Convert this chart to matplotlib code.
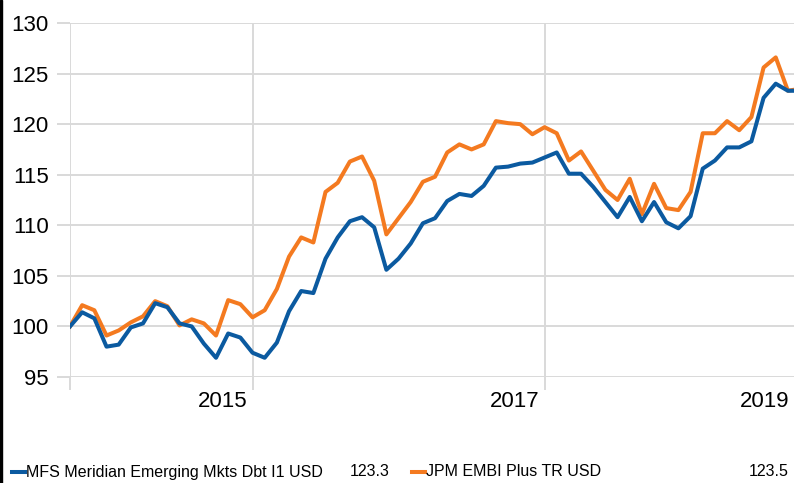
import numpy as np
import matplotlib
matplotlib.use("Agg")
import matplotlib.pyplot as plt
from matplotlib.lines import Line2D
from matplotlib.patches import Rectangle

plt.rcParams['font.family'] = ['Liberation Sans', 'DejaVu Sans']

# ---- data (monthly index values) ----
fund_name = "MFS Meridian Emerging Mkts Dbt I1 USD"
bench_name = "JPM EMBI Plus TR USD"

fund = [100.0, 101.4, 100.8, 98.0, 98.2, 99.9, 100.3, 102.3, 101.9, 100.3,
        100.0, 98.3, 96.9, 99.3, 98.9, 97.4, 96.9, 98.4, 101.5, 103.5,
        103.3, 106.7, 108.8, 110.4, 110.8, 109.8, 105.6, 106.7, 108.2, 110.2,
        110.7, 112.4, 113.1, 112.9, 113.9, 115.7, 115.8, 116.1, 116.2, 116.7,
        117.2, 115.1, 115.1, 113.8, 112.3, 110.8, 112.8, 110.4, 112.3, 110.3,
        109.7, 110.9, 115.6, 116.4, 117.7, 117.7, 118.3, 122.6, 124.0, 123.3,
        123.3]

bench = [100.0, 102.1, 101.6, 99.1, 99.6, 100.4, 101.0, 102.5, 102.0, 100.1,
         100.7, 100.3, 99.1, 102.6, 102.2, 100.9, 101.6, 103.7, 106.9, 108.8,
         108.3, 113.3, 114.2, 116.3, 116.8, 114.4, 109.1, 110.7, 112.3, 114.3,
         114.8, 117.2, 118.0, 117.5, 118.0, 120.3, 120.1, 120.0, 119.0, 119.7,
         119.1, 116.4, 117.3, 115.4, 113.5, 112.5, 114.6, 111.1, 114.1, 111.7,
         111.5, 113.3, 119.1, 119.1, 120.3, 119.4, 120.7, 125.6, 126.6, 123.3,
         123.5]

y_ticks = [95, 100, 105, 110, 115, 120, 125, 130]
year_labels = ["2015", "2017", "2019"]
year_months = [15, 39, 63]          # month index of each year boundary
grid_months = [0, 15, 39, 63]

FUND_C = "#0b5aa0"
BENCH_C = "#f47a20"
GRID_C = "#d9d9d9"

W, H = 794, 483
fig = plt.figure(figsize=(W / 100, H / 100), dpi=100)
ax = fig.add_axes([70 / W, 106 / H, 724 / W, 354 / H])

months = np.arange(len(fund))
xmax = 59.5
ax.set_xlim(0, xmax)
ax.set_ylim(95, 130)

ax.set_yticks(y_ticks)
ax.set_yticklabels([str(v) for v in y_ticks], fontsize=16)
ax.set_xticks([m for m in grid_months if m <= xmax])
ax.set_xticklabels([])
ax.tick_params(axis='both', length=9.4, width=1.4, color=GRID_C, pad=5.8)
ax.grid(True, color=GRID_C, linewidth=1.4)
ax.set_axisbelow(True)
for s in ax.spines.values():
    s.set_visible(False)

ax.plot(months, bench, color=BENCH_C, lw=2.9, solid_joinstyle='round', zorder=3)
ax.plot(months, fund, color=FUND_C, lw=2.9, solid_joinstyle='round', zorder=4)

for lab, m in zip(year_labels, year_months):
    ax.annotate(lab, xy=(min(m, xmax), 0), xycoords=('data', 'axes fraction'),
                xytext=(-5, -14), textcoords='offset pixels',
                ha='right', va='top', fontsize=16)

# left black bar
fig.add_artist(Rectangle((0, 0), 2 / W, 1, transform=fig.transFigure,
                         color='black', zorder=10))

# legend row
ly = 1 - 472 / H
LFS = 11.5
fig.add_artist(Line2D([12 / W, 25 / W], [ly, ly], color=FUND_C, lw=2.9))
fig.text(26 / W, ly, fund_name, fontsize=LFS, va='center', ha='left')
fig.text(390 / W, ly, f"{fund[-1]:.1f}", fontsize=LFS, va='center', ha='right')
fig.add_artist(Line2D([412 / W, 425 / W], [ly, ly], color=BENCH_C, lw=2.9))
fig.text(426 / W, ly, bench_name, fontsize=LFS, va='center', ha='left')
fig.text(789 / W, ly, f"{bench[-1]:.1f}", fontsize=LFS, va='center', ha='right')

fig.savefig("out.png", dpi=100)
